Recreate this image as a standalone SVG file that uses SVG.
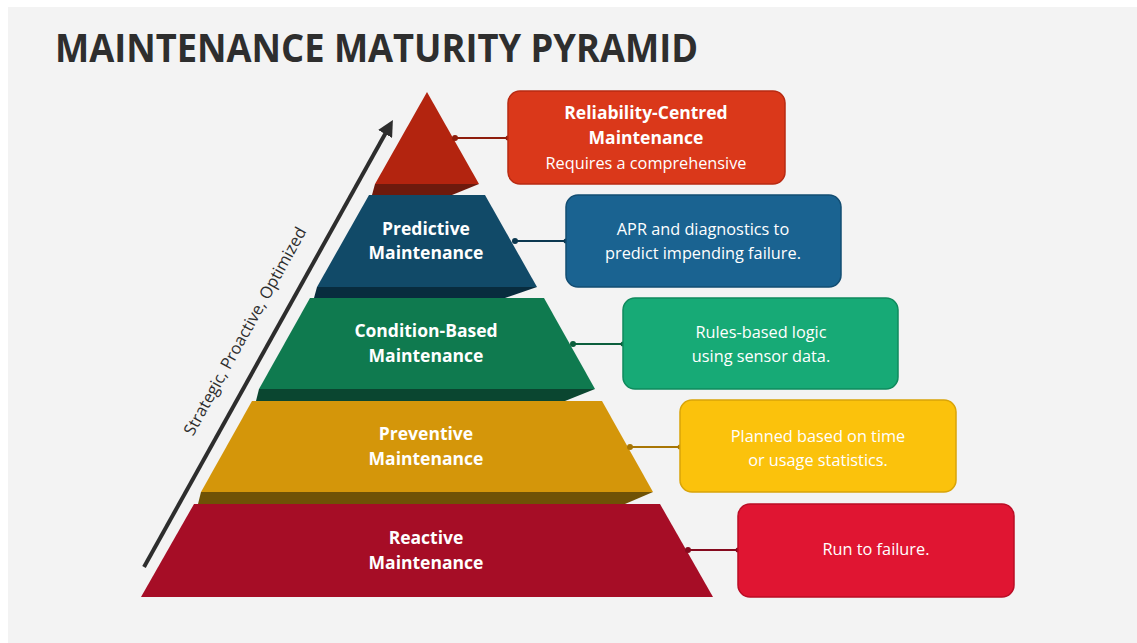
<svg xmlns="http://www.w3.org/2000/svg" width="1137" height="643" viewBox="0 0 1137 643">
  <style>
    .tier-label { font-family: "Open Sans", "Liberation Sans", sans-serif; font-weight: 700; font-size: 17.5px; fill: #ffffff; text-anchor: middle; }
    .box-text { font-family: "Open Sans", "Liberation Sans", sans-serif; font-weight: 400; font-size: 16.3px; fill: #ffffff; text-anchor: middle; }
    .box-title { font-family: "Open Sans", "Liberation Sans", sans-serif; font-weight: 700; font-size: 17.5px; fill: #ffffff; text-anchor: middle; }
    .link { fill: none; stroke-width: 2; }
    .card { stroke-width: 1.5; }
  </style>
  <defs>
    <marker id="arrowHead" viewBox="0 0 10 10" refX="5" refY="5" markerWidth="4" markerHeight="4" orient="auto-start-reverse">
      <path d="M0,0 L10,5 L0,10 z" fill="#2d2d2d"/>
    </marker>
  </defs>

  <!-- page background -->
  <rect x="0" y="0" width="1137" height="643" fill="#ffffff"/>
  <rect x="8" y="7" width="1129" height="636" fill="#f3f3f3"/>

  <text x="55" y="62" font-family="Open Sans, Liberation Sans, sans-serif" font-weight="700" font-size="40" fill="#2e2e2e" textLength="643" lengthAdjust="spacingAndGlyphs">MAINTENANCE MATURITY PYRAMID</text>

  <!-- direction arrow -->
  <g id="direction">
    <line x1="144" y1="567" x2="389" y2="127" stroke="#2d2d2d" stroke-width="4" marker-end="url(#arrowHead)"/>
    <text transform="translate(250,334) rotate(-61)" font-family="Open Sans, Liberation Sans, sans-serif" font-size="16.5" fill="#2e2e2e" text-anchor="middle">Strategic, Proactive, Optimized</text>
  </g>

  <!-- tier shadows -->
  <g id="shadows">
    <polygon points="375,184 479,184 452,195 372,195" fill="#6e1a0d"/>
    <polygon points="317,287 537,287 505,298 314,298" fill="#082c3e"/>
    <polygon points="259,389 595,389 565,401 256,401" fill="#0a4630"/>
    <polygon points="201,492 653,492 625,504 198,504" fill="#6f5206"/>
  </g>

  <g id="tier-rcm">
    <polygon points="427,92 479,184 375,184" fill="#b3240f"/>
  </g>
  <g id="tier-predictive">
    <polygon points="369,195 485,195 537,287 317,287" fill="#114a68"/>
    <text class="tier-label" x="426" y="235">Predictive</text>
    <text class="tier-label" x="426" y="259">Maintenance</text>
  </g>
  <g id="tier-condition">
    <polygon points="310,298 544,298 595,389 259,389" fill="#0f7a4f"/>
    <text class="tier-label" x="426" y="337">Condition-Based</text>
    <text class="tier-label" x="426" y="362">Maintenance</text>
  </g>
  <g id="tier-preventive">
    <polygon points="252,401 602,401 653,492 201,492" fill="#d4960a"/>
    <text class="tier-label" x="426" y="440">Preventive</text>
    <text class="tier-label" x="426" y="465">Maintenance</text>
  </g>
  <g id="tier-reactive">
    <polygon points="194,504 660,504 713,597 141,597" fill="#a60d26"/>
    <text class="tier-label" x="426" y="544">Reactive</text>
    <text class="tier-label" x="426" y="569">Maintenance</text>
  </g>

  <!-- connectors from tiers to description cards -->
  <g id="connectors">
    <line class="link" x1="455" y1="138" x2="508" y2="138" stroke="#8e1d0c"/>
    <circle cx="455" cy="138" r="3" fill="#8e1d0c"/>
    <circle cx="508" cy="138" r="2.5" fill="#8e1d0c"/>
    <line class="link" x1="515" y1="241" x2="566" y2="241" stroke="#0b3850"/>
    <circle cx="515" cy="241" r="3" fill="#0b3850"/>
    <circle cx="566" cy="241" r="2.5" fill="#0b3850"/>
    <line class="link" x1="573" y1="344" x2="623" y2="344" stroke="#0b5e3c"/>
    <circle cx="573" cy="344" r="3" fill="#0b5e3c"/>
    <circle cx="623" cy="344" r="2.5" fill="#0b5e3c"/>
    <line class="link" x1="630" y1="447" x2="680" y2="447" stroke="#a87605"/>
    <circle cx="630" cy="447" r="3" fill="#a87605"/>
    <circle cx="680" cy="447" r="2.5" fill="#a87605"/>
    <line class="link" x1="688" y1="550" x2="738" y2="550" stroke="#850a1e"/>
    <circle cx="688" cy="550" r="3" fill="#850a1e"/>
    <circle cx="738" cy="550" r="2.5" fill="#850a1e"/>
  </g>

  <g id="card-rcm">
    <rect class="card" x="508" y="91" width="277" height="93" rx="12" fill="#da381a" stroke="#b82a12"/>
    <text class="box-title" x="646" y="119">Reliability-Centred</text>
    <text class="box-title" x="646" y="144">Maintenance</text>
    <text class="box-text" x="646" y="169">Requires a comprehensive</text>
  </g>
  <g id="card-predictive">
    <rect class="card" x="566" y="195" width="275" height="92" rx="12" fill="#1a6391" stroke="#124d72"/>
    <text class="box-text" x="703" y="235">APR and diagnostics to</text>
    <text class="box-text" x="703" y="259">predict impending failure.</text>
  </g>
  <g id="card-condition">
    <rect class="card" x="623" y="298" width="275" height="91" rx="12" fill="#17aa76" stroke="#0f8a5d"/>
    <text class="box-text" x="761" y="338">Rules-based logic</text>
    <text class="box-text" x="761" y="362">using sensor data.</text>
  </g>
  <g id="card-preventive">
    <rect class="card" x="680" y="400" width="276" height="92" rx="12" fill="#fbc20c" stroke="#d9a408"/>
    <text class="box-text" x="818" y="442">Planned based on time</text>
    <text class="box-text" x="818" y="466">or usage statistics.</text>
  </g>
  <g id="card-reactive">
    <rect class="card" x="738" y="504" width="276" height="93" rx="12" fill="#e01532" stroke="#bb0c25"/>
    <text class="box-text" x="876" y="555">Run to failure.</text>
  </g>
</svg>
